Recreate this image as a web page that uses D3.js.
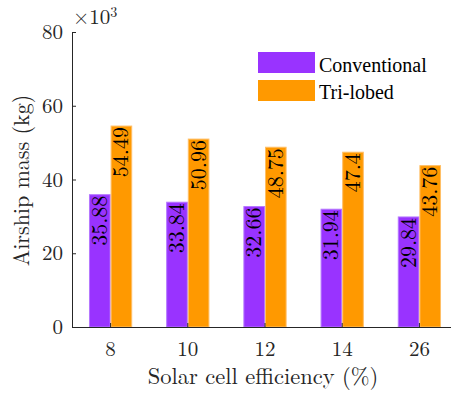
<!DOCTYPE html>
<html>
<head>
    <title>Airship mass</title>
    <script src="https://cdnjs.cloudflare.com/ajax/libs/d3/7.6.1/d3.min.js"></script>
    <style>
        html, body { margin: 0; padding: 0; background: white; }
        svg { display: block; }
    </style>
</head>
<body>
    <div id="chart"></div>
    <script>
        const efficiencies = ["8", "10", "12", "14", "26"];
        const conventional = [35.88, 33.84, 32.66, 31.94, 29.84];
        const triLobed = [54.49, 50.96, 48.75, 47.4, 43.76];
        const seriesNames = ["Conventional", "Tri-lobed"];
        const yTicks = [0, 20, 40, 60, 80];

        const width = 451, height = 394;
        const margin = { left: 72, top: 32, right: -7, bottom: 67 };
        const latex = '"Latin Modern Roman", "CMU Serif", serif';
        const times = '"Liberation Serif", "Times New Roman", serif';
        const axisColor = "#262626";
        const color = d3.scaleOrdinal(seriesNames, ["#9933ff", "#ff9900"]);
        const edge = d3.scaleOrdinal(seriesNames, ["#b577ff", "#ffbf66"]);

        const svg = d3.select("#chart").append("svg")
            .attr("width", width)
            .attr("height", height);

        const x = d3.scaleBand()
            .domain(efficiencies)
            .range([margin.left, width - margin.right]);

        const groupWidth = x.bandwidth() * 0.56;
        const xInner = d3.scaleBand()
            .domain(seriesNames)
            .range([0, groupWidth]);

        const y = d3.scaleLinear()
            .domain([0, 80])
            .range([height - margin.bottom, margin.top]);

        const rows = efficiencies.map((e, i) => ({
            key: e,
            values: [
                { series: seriesNames[0], value: conventional[i] },
                { series: seriesNames[1], value: triLobed[i] }
            ]
        }));

        const groups = svg.selectAll("g.group")
            .data(rows)
            .enter()
            .append("g")
            .attr("class", "group")
            .attr("transform", d => `translate(${x(d.key) + (x.bandwidth() - groupWidth) / 2},0)`);

        groups.selectAll("rect")
            .data(d => d.values)
            .enter()
            .append("rect")
            .attr("x", d => xInner(d.series) + 0.5)
            .attr("y", d => y(d.value))
            .attr("width", xInner.bandwidth() - 1)
            .attr("height", d => y(0) - y(d.value))
            .attr("fill", d => color(d.series))
            .attr("stroke", d => edge(d.series))
            .attr("stroke-width", 1);

        groups.selectAll("text")
            .data(d => d.values)
            .enter()
            .append("text")
            .attr("transform", d => `translate(${xInner(d.series) + xInner.bandwidth() / 2 + 7},${y(d.value) + 1}) rotate(-90)`)
            .attr("text-anchor", "end")
            .style("font-family", latex)
            .style("font-size", "22px")
            .attr("fill", "black")
            .text(d => d.value);

        // y axis
        const yAxis = svg.append("g")
            .attr("transform", `translate(${margin.left},0)`)
            .call(d3.axisLeft(y).tickValues(yTicks).tickSize(-4).tickPadding(9).tickSizeOuter(0));
        yAxis.select(".domain").attr("stroke", axisColor);
        yAxis.selectAll(".tick line").attr("stroke", axisColor);
        yAxis.selectAll(".tick text")
            .style("font-family", latex)
            .style("font-size", "21px")
            .attr("fill", axisColor);

        // x axis
        const xAxis = svg.append("g")
            .attr("transform", `translate(0,${y(0)})`)
            .call(d3.axisBottom(x).tickSize(-4).tickPadding(14).tickSizeOuter(0));
        xAxis.select(".domain").attr("stroke", axisColor);
        xAxis.selectAll(".tick line").attr("stroke", axisColor);
        xAxis.selectAll(".tick text")
            .style("font-family", latex)
            .style("font-size", "21px")
            .attr("fill", axisColor);

        // exponent label
        const expLabel = svg.append("text")
            .attr("x", 73)
            .attr("y", 24)
            .style("font-family", latex)
            .style("font-size", "21px")
            .attr("fill", axisColor);
        expLabel.append("tspan").text("\u00d710");
        expLabel.append("tspan").style("font-size", "14px").attr("dy", "-7").text("3");

        // axis titles
        svg.append("text")
            .attr("transform", `translate(29,${(y(0) + y(80)) / 2 + 1}) rotate(-90)`)
            .attr("text-anchor", "middle")
            .style("font-family", latex)
            .style("font-size", "22px")
            .attr("fill", axisColor)
            .text("Airship mass (kg)");

        svg.append("text")
            .attr("x", 263)
            .attr("y", 384)
            .attr("text-anchor", "middle")
            .style("font-family", latex)
            .style("font-size", "22.5px")
            .attr("fill", axisColor)
            .text("Solar cell efficiency (%)");

        // legend
        const legend = svg.append("g")
            .attr("transform", "translate(258,52)");
        legend.selectAll("rect")
            .data(seriesNames)
            .enter()
            .append("rect")
            .attr("x", 0)
            .attr("y", (d, i) => i * 28)
            .attr("width", 57)
            .attr("height", 21)
            .attr("fill", color);
        legend.selectAll("text")
            .data(seriesNames)
            .enter()
            .append("text")
            .attr("x", 61)
            .attr("y", (d, i) => i * 27 + 20)
            .style("font-family", times)
            .style("font-size", "20px")
            .attr("fill", "black")
            .text(d => d);
    </script>
</body>
</html>
